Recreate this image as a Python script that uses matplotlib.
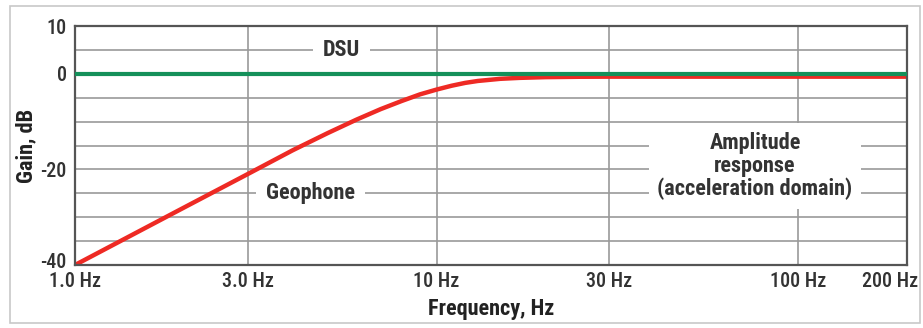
import matplotlib
matplotlib.use("Agg")
import matplotlib.pyplot as plt
from matplotlib.ticker import FixedLocator, NullFormatter
from matplotlib.transforms import ScaledTranslation
from matplotlib.patches import Rectangle

# Data
freq_hz = [1, 2, 3, 4, 5, 6, 7, 8, 9, 10, 11, 12, 13, 15, 17, 20, 25, 30, 50, 100, 200]
geophone_db = [-40, -28, -21, -16, -12.4, -9.6, -7.4, -5.7, -4.3, -3.3, -2.5, -1.9, -1.5, -1.05, -0.85,
               -0.7, -0.62, -0.6, -0.6, -0.6, -0.6]
dsu_freq = [1, 200]
dsu_db = [0, 0]
x_ticks = [1, 3, 10, 30, 100, 200]
x_ticklabels = ["1.0 Hz", "3.0 Hz", "10 Hz", "30 Hz", "100 Hz", "200 Hz"]
y_ticks = [10, 0, -20, -40]
y_grid = [5, -5, -10, -15, -25, -30, -35]

FONT = ["Roboto Condensed", "DejaVu Sans"]
plt.rcParams['font.family'] = FONT

fig = plt.figure(figsize=(9.23, 3.28), dpi=100)
fig.patches.append(Rectangle((10/923, 5/328), 910/923, 317/328, transform=fig.transFigure,
                             fill=False, edgecolor="#c8c8c8", linewidth=1.2))
ax = fig.add_axes([75/923, 1-265/328, (907-75)/923, (265-26)/328])
ax.set_xscale("log")
ax.set_xlim(1, 200)
ax.set_ylim(-40, 10)

ax.xaxis.set_major_locator(FixedLocator(x_ticks))
ax.xaxis.set_minor_locator(FixedLocator([]))
ax.xaxis.set_minor_formatter(NullFormatter())
ax.set_xticklabels(x_ticklabels)
ax.yaxis.set_major_locator(FixedLocator(y_ticks))
ax.yaxis.set_minor_locator(FixedLocator(y_grid))
ax.set_yticklabels([str(v) for v in y_ticks])

ax.tick_params(which="both", length=0)
ax.tick_params(axis="x", pad=5, labelsize=14.5, labelcolor="#333333")
ax.tick_params(axis="y", pad=6, labelsize=14.5, labelcolor="#333333")
for lbl in ax.get_xticklabels() + ax.get_yticklabels():
    lbl.set_fontweight(500)
last = ax.get_xticklabels()[-1]
last.set_horizontalalignment("right")
last.set_transform(last.get_transform() + ScaledTranslation(11/100, 0, fig.dpi_scale_trans))
ylast = ax.get_yticklabels()[-1]
ylast.set_transform(ylast.get_transform() + ScaledTranslation(0, 5/100, fig.dpi_scale_trans))

ax.grid(True, which="major", axis="x", color="#9a9a9a", linewidth=1.2)
ax.grid(True, which="both", axis="y", color="#9a9a9a", linewidth=1.2)
ax.set_axisbelow(True)
for s in ax.spines.values():
    s.set_color("#555555")
    s.set_linewidth(1.6)

ax.plot(dsu_freq, dsu_db, color="#14905a", linewidth=3, zorder=3)
ax.plot(freq_hz, geophone_db, color="#ee2a24", linewidth=3.2, zorder=2.5, solid_capstyle="butt")

ax.set_xlabel("Frequency, Hz", fontsize=16, fontweight="bold", color="#222222", labelpad=5)
ax.set_ylabel("Gain, dB", fontsize=16, fontweight="bold", color="#222222", labelpad=2)

box = dict(facecolor="white", edgecolor="none", pad=7)
ax.text(4.85, 5, "DSU", ha="left", va="center", fontsize=16, fontweight="bold",
        color="#333333", bbox=box, zorder=4)
ax.text(3.37, -25, "Geophone", ha="left", va="center", fontsize=16, fontweight="bold",
        color="#333333", bbox=box, zorder=4)
ax.text(76, -19.3, "Amplitude\nresponse\n(acceleration domain)", ha="center", va="center",
        fontsize=16, fontweight="bold", color="#333333", linespacing=1.05,
        bbox=dict(facecolor="white", edgecolor="none", pad=6), zorder=4)

fig.savefig("out.png", dpi=100)
